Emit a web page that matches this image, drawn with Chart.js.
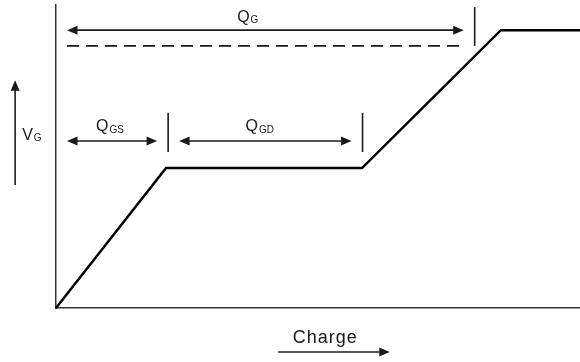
<!DOCTYPE html>
<html>
<head>
<meta charset="utf-8">
<script src="https://cdn.jsdelivr.net/npm/chart.js@4.4.1/dist/chart.umd.min.js"></script>
<style>
  html, body { margin: 0; padding: 0; background: #fff; }
  #wrap { width: 580px; height: 362px; }
</style>
</head>
<body>
<div id="wrap"><canvas id="gateChart"></canvas></div>
<script>
// gate charge curve, arbitrary units (0..100 on both axes)
const chargeSteps = [0, 21.0, 58.4, 84.9, 100];
const gateVoltage = [0, 46.2, 46.2, 91.7, 91.7];

// where Q_GS, Q_GD and Q_G end on the charge axis
const chargeMarks = [21.4, 58.5, 79.9];
const driveLevel = 86.5;   // dashed line under the Q_G span
const topLevel = 91.7;     // Q_G arrow level
const splitLevel = 55.1;   // Q_GS / Q_GD arrow level

const INK = '#1a1a1a';
const FONT = '"Liberation Sans", Arial, sans-serif';

function head(ctx, x, y, dir) {
  const len = 10.5, half = 4.5;
  ctx.beginPath();
  if (dir === 'right') { ctx.moveTo(x, y); ctx.lineTo(x - len, y - half); ctx.lineTo(x - len, y + half); }
  if (dir === 'left')  { ctx.moveTo(x, y); ctx.lineTo(x + len, y - half); ctx.lineTo(x + len, y + half); }
  if (dir === 'up')    { ctx.moveTo(x, y); ctx.lineTo(x - half, y + len); ctx.lineTo(x + half, y + len); }
  ctx.closePath();
  ctx.fill();
}

function line(ctx, x1, y1, x2, y2) {
  ctx.beginPath();
  ctx.moveTo(x1, y1);
  ctx.lineTo(x2, y2);
  ctx.stroke();
}

function subLabel(ctx, main, sub, cx, base) {
  ctx.font = '16px ' + FONT;
  const w1 = ctx.measureText(main).width;
  ctx.font = '10px ' + FONT;
  const w2 = ctx.measureText(sub).width;
  const x0 = cx - (w1 + 1 + w2) / 2;
  ctx.textAlign = 'left';
  ctx.textBaseline = 'alphabetic';
  ctx.font = '16px ' + FONT;
  ctx.fillText(main, x0, base);
  ctx.font = '10px ' + FONT;
  ctx.fillText(sub, x0 + w1 + 1, base + 1.5);
}

const annotations = {
  id: 'gateNotes',
  afterDatasetsDraw(chart) {
    const ctx = chart.ctx;
    const px = v => chart.scales.x.getPixelForValue(v);
    const py = v => chart.scales.y.getPixelForValue(v);
    const gap = 11;
    ctx.save();
    ctx.strokeStyle = INK;
    ctx.fillStyle = INK;
    ctx.lineWidth = 1.6;

    // Q_G span
    const gL = px(0) + gap, gR = px(chargeMarks[2]) - gap;
    line(ctx, gL + 6, py(topLevel), gR - 6, py(topLevel));
    head(ctx, gL, py(topLevel), 'left');
    head(ctx, gR, py(topLevel), 'right');
    line(ctx, px(chargeMarks[2]), py(99.3), px(chargeMarks[2]), py(driveLevel));
    ctx.lineWidth = 1.8;
    ctx.setLineDash([12, 7]);
    line(ctx, gL, py(driveLevel), gR, py(driveLevel));
    ctx.setLineDash([]);
    ctx.lineWidth = 1.6;

    // Q_GS and Q_GD spans
    const spans = [[0, chargeMarks[0]], [chargeMarks[0], chargeMarks[1]]];
    spans.forEach(([a, b]) => {
      const l = px(a) + gap, r = px(b) - gap;
      line(ctx, l + 6, py(splitLevel), r - 6, py(splitLevel));
      head(ctx, l, py(splitLevel), 'left');
      head(ctx, r, py(splitLevel), 'right');
    });
    [chargeMarks[0], chargeMarks[1]].forEach(m => line(ctx, px(m), py(64.4), px(m), py(51.5)));

    // axis direction arrows
    line(ctx, px(-7.8), py(40.6), px(-7.8), py(75.2) + 6);
    head(ctx, px(-7.8), py(75.2), 'up');
    line(ctx, px(42.4), py(-14.5), px(63.7) - 6, py(-14.5));
    head(ctx, px(63.7), py(-14.5), 'right');

    // labels
    subLabel(ctx, 'Q', 'G', px(36.6), py(94.4));
    subLabel(ctx, 'Q', 'GS', px(10.3), py(58.4));
    subLabel(ctx, 'Q', 'GD', px(38.9), py(58.4));
    subLabel(ctx, 'V', 'G', px(-4.6), py(55.6));

    ctx.font = '18px ' + FONT;
    ctx.letterSpacing = '1px';
    ctx.textAlign = 'center';
    ctx.fillText('Charge', px(51.4), py(-11.5));
    ctx.restore();
  }
};

const data = {
  datasets: [{
    label: 'V_G',
    data: chargeSteps.map((q, i) => ({ x: q, y: gateVoltage[i] })),
    borderColor: '#000',
    borderWidth: 2.5,
    pointRadius: 0,
    tension: 0,
    fill: false
  }]
};

const config = {
  type: 'line',
  data,
  options: {
    responsive: true,
    maintainAspectRatio: false,
    animation: false,
    clip: false,
    layout: { padding: { left: 56, top: 5, right: 0, bottom: 54 } },
    plugins: {
      legend: { display: false },
      tooltip: { enabled: false }
    },
    scales: {
      x: {
        type: 'linear',
        min: 0,
        max: 100,
        grid: { display: false, drawTicks: false },
        ticks: { display: false },
        border: { display: true, color: '#333', width: 1.5 }
      },
      y: {
        type: 'linear',
        min: 0,
        max: 100,
        grid: { display: false, drawTicks: false },
        ticks: { display: false },
        border: { display: true, color: '#333', width: 1.5 }
      }
    }
  },
  plugins: [annotations]
};

const gateChart = new Chart(document.getElementById('gateChart'), config);
</script>
</body>
</html>
